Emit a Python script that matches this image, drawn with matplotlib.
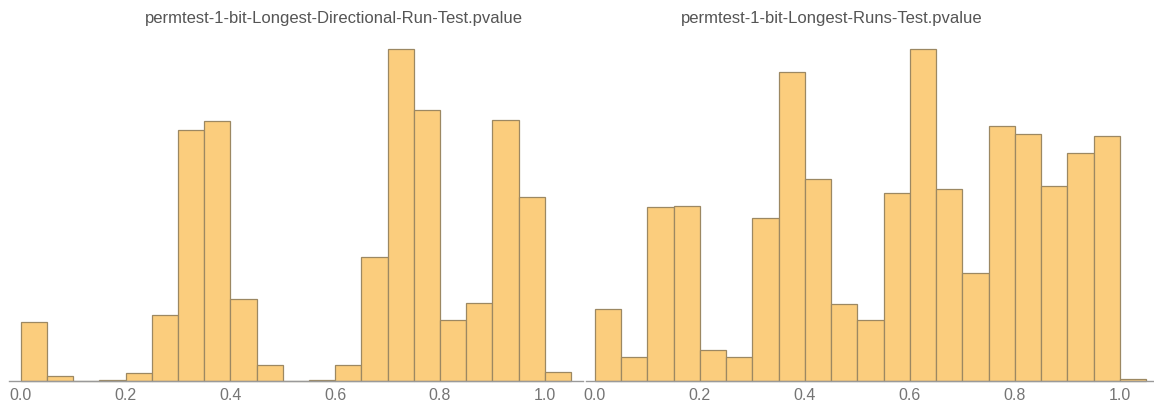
import numpy as np
import matplotlib.pyplot as plt

plt.rcParams['font.family'] = ['Liberation Sans', 'DejaVu Sans']

# bin edges (width 0.05) shared by both histograms
bin_edges = [round(0.05 * i, 2) for i in range(22)]

left_title = "permtest-1-bit-Longest-Directional-Run-Test.pvalue"
left_counts = [58.7, 5.3, 0, 1, 7.7, 66, 251, 260, 82, 16, 0,
               1, 16, 124, 332, 271, 61, 78, 261, 184, 9]

right_title = "permtest-1-bit-Longest-Runs-Test.pvalue"
right_counts = [71.7, 24.4, 173.4, 175, 31, 24.4, 163, 308.4, 202, 77, 61.4,
                188, 331.7, 192, 108.4, 255, 247, 195, 227.7, 244.7, 2.4]

tick_vals = [0.0, 0.2, 0.4, 0.6, 0.8, 1.0]

W, H = 1154, 405
fig = plt.figure(figsize=(W / 100, H / 100), dpi=100)


def panel(x0, x1, xlim, counts, title, title_x):
    ax = fig.add_axes([x0 / W, 24 / H, (x1 - x0) / W, (381 - 49) / H])
    left = bin_edges[:-1]
    widths = np.diff(bin_edges)
    ax.bar(left, counts, width=widths, align='edge',
           facecolor='#FBCD7D', edgecolor='#9C8862', linewidth=0.9, clip_on=False)
    ax.set_xlim(*xlim)
    ax.set_ylim(0, max(counts))
    for s in ['top', 'right', 'left']:
        ax.spines[s].set_visible(False)
    ax.spines['bottom'].set_color('#9A9A9A')
    ax.spines['bottom'].set_linewidth(1.0)
    ax.set_yticks([])
    ax.set_xticks(tick_vals)
    ax.set_xticklabels([f"{v:.1f}" for v in tick_vals])
    ax.tick_params(axis='x', length=0, pad=5, labelsize=11.5, labelcolor='#757575')
    fig.text(title_x / W, 1 - 18 / H, title, ha='center', va='center',
             fontsize=12, color='#555555')
    return ax


panel(9, 583, (-0.0223, 1.0729), left_counts, left_title, 334)
panel(586, 1154, (-0.0171, 1.0652), right_counts, right_title, 832)

fig.savefig("out.png", dpi=100)
